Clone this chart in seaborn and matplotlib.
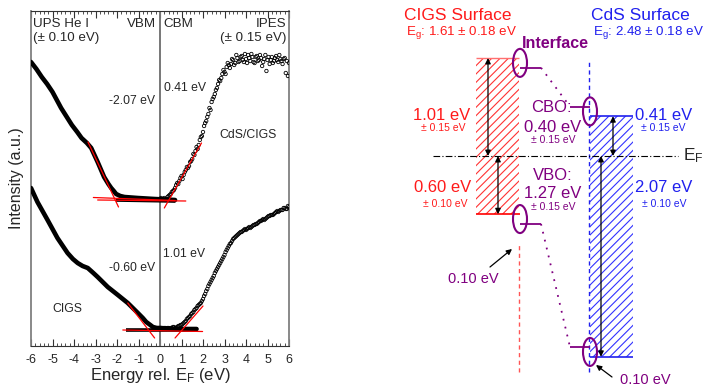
import numpy as np
import pandas as pd
import matplotlib
matplotlib.use("Agg")
import matplotlib.pyplot as plt
import seaborn as sns
from matplotlib.patches import Ellipse

# ---------------- data: left panel (spectra) ----------------
ups_top_e = [-6.0, -5.75, -5.5, -5.25, -5.0, -4.6, -4.1, -3.85, -3.65, -3.4, -3.2, -2.9, -2.6, -2.4, -2.27, -2.15,
             -2.04, -1.85, -1.65, -1.03, -0.25, 0.7]
ups_top_i = [284, 277, 269, 262, 254, 238, 221, 214, 208, 203, 198, 184, 169, 162, 158, 155,
             152, 150, 149, 148, 147, 146]

ups_bot_e = [-6.0, -5.7, -5.23, -4.77, -4.3, -4.05, -3.83, -3.6, -3.36, -3.1, -2.9, -2.43, -1.96, -1.5, -1.03, -0.8,
             -0.64, -0.45, -0.33, -0.15, 0.0, 0.69, 1.7]
ups_bot_i = [158, 144, 126, 108, 93, 87, 83, 80, 78, 73, 69, 59, 51, 43, 33, 28,
             24, 21, 19, 18, 18, 17, 17]

ipes_top_e_a = [0.0, 0.1, 0.2, 0.3, 0.4, 0.5, 0.6, 0.7, 0.8, 0.9, 1.0, 1.1, 1.2, 1.3, 1.4, 1.5, 1.6, 1.7, 1.8, 1.9,
                2.0, 2.1, 2.2, 2.3, 2.4, 2.5, 2.6, 2.7, 2.8, 2.9, 3.0, 3.1, 3.2, 3.3, 3.4, 3.5, 3.6, 3.7, 3.8, 3.9,
                4.0, 4.1, 4.2, 4.3, 4.4, 4.5, 4.6, 4.7, 4.8, 4.9, 5.0, 5.1, 5.2, 5.3, 5.4, 5.5, 5.6, 5.7, 5.8, 5.9, 6.0]
ipes_top_i_a = [147, 146, 148, 147, 150, 152, 155, 158, 163, 165, 170, 171, 176, 178, 184, 187, 191, 199, 201, 209,
                214, 223, 229, 238, 244, 249, 256, 262, 265, 272, 274, 279, 281, 282, 286, 283, 288, 285, 290, 284,
                287, 291, 285, 289, 283, 290, 286, 288, 284, 291, 286, 282, 289, 285, 290, 284, 287, 282, 288, 285, 283]
ipes_top_e_b = [0.05, 0.15, 0.25, 0.35, 0.45, 0.55, 0.65, 0.75, 0.85, 0.95, 1.05, 1.15, 1.25, 1.35, 1.45, 1.55, 1.65,
                1.75, 1.85, 1.95, 2.05, 2.15, 2.25, 2.35, 2.45, 2.55, 2.65, 2.75, 2.85, 2.95, 3.05, 3.15, 3.25, 3.35,
                3.45, 3.55, 3.65, 3.75, 3.85, 3.95, 4.05, 4.15, 4.25, 4.35, 4.45, 4.55, 4.65, 4.75, 4.85, 4.95, 5.05,
                5.15, 5.25, 5.35, 5.45, 5.55, 5.65, 5.75, 5.85, 5.95]
ipes_top_i_b = [148, 147, 146, 149, 151, 154, 156, 161, 162, 168, 167, 174, 179, 180, 185, 192, 195,
                197, 206, 210, 220, 225, 232, 236, 247, 252, 258, 266, 268, 276, 272, 283, 278, 287,
                281, 291, 284, 289, 286, 292, 283, 288, 292, 284, 289, 285, 291, 280, 287, 275, 289,
                286, 283, 288, 286, 291, 285, 287, 273, 270]

ipes_bot_e_a = [0.1, 0.2, 0.3, 0.4, 0.5, 0.6, 0.7, 0.8, 0.9, 1.0, 1.1, 1.2, 1.3, 1.4, 1.5, 1.6, 1.7, 1.8, 1.9,
                2.0, 2.1, 2.2, 2.3, 2.4, 2.5, 2.6, 2.7, 2.8, 2.9, 3.0, 3.1, 3.2, 3.3, 3.4, 3.5, 3.6, 3.7, 3.8, 3.9,
                4.0, 4.1, 4.2, 4.3, 4.4, 4.5, 4.6, 4.7, 4.8, 4.9, 5.0, 5.1, 5.2, 5.3, 5.4, 5.5, 5.6, 5.7, 5.8, 5.9, 6.0]
ipes_bot_i_a = [17, 18, 17, 18, 18, 19, 18, 19, 20, 21, 23, 25, 28, 30, 33, 36, 38, 41, 43,
                47, 52, 57, 62, 66, 70, 75, 79, 83, 87, 91, 96, 100, 103, 107, 109, 111, 113, 114, 116,
                116, 118, 118, 120, 121, 122, 124, 125, 127, 127, 129, 130, 131, 132, 134, 134, 136, 136, 138, 137, 139]
ipes_bot_e_b = [0.05, 0.15, 0.25, 0.35, 0.45, 0.55, 0.65, 0.75, 0.85, 0.95, 1.05, 1.15, 1.25, 1.35, 1.45, 1.55, 1.65,
                1.75, 1.85, 1.95, 2.05, 2.15, 2.25, 2.35, 2.45, 2.55, 2.65, 2.75, 2.85, 2.95, 3.05, 3.15, 3.25, 3.35,
                3.45, 3.55, 3.65, 3.75, 3.85, 3.95, 4.05, 4.15, 4.25, 4.35, 4.45, 4.55, 4.65, 4.75, 4.85, 4.95, 5.05,
                5.15, 5.25, 5.35, 5.45, 5.55, 5.65, 5.75, 5.85, 5.95]
ipes_bot_i_b = [18, 17, 18, 18, 17, 18, 19, 18, 20, 21, 22, 24, 27, 29, 32, 34, 37,
                40, 42, 45, 50, 55, 60, 64, 68, 73, 77, 81, 85, 89, 94, 98, 102, 105,
                108, 110, 112, 114, 115, 117, 117, 119, 119, 121, 122, 123, 125, 126, 126, 128, 130,
                131, 131, 133, 135, 135, 136, 138, 137, 140]

# linear fits (start E, start I, end E, end I)
red_fits = [(-3.35, 204, -1.93, 139), (-3.1, 148.5, 0.7, 145.5), (-2.9, 146, 1.2, 145),
            (0.2, 138, 1.93, 203),
            (-1.5, 43, -0.25, 8), (-1.73, 16, 1.98, 14.5), (0.7, 8, 2.0, 40)]
black_baselines = [(-2.05, 146, 0.72, 145), (-1.6, 16, 1.7, 16)]

xticks = [-6, -5, -4, -3, -2, -1, 0, 1, 2, 3, 4, 5, 6]

# ---------------- data: right panel (band diagram, eV) ----------------
cigs_cbm, cigs_vbm = 1.01, -0.60
cds_cbm, cds_vbm = 0.41, -2.07
band_bend = 0.10
cbo, vbo = 0.40, 1.27

# ---------------- style ----------------
sns.set_style("white")
plt.rcParams["font.family"] = ["Liberation Sans", "DejaVu Sans"]
plt.rcParams["mathtext.fontset"] = "custom"
plt.rcParams["mathtext.rm"] = "Liberation Sans"
plt.rcParams["mathtext.it"] = "Liberation Sans:italic"
plt.rcParams["mathtext.default"] = "regular"
plt.rcParams["axes.unicode_minus"] = False
plt.rcParams["hatch.linewidth"] = 0.8

fig = plt.figure(figsize=(7.04, 3.86), dpi=100)

# ---------------- left panel ----------------
ax = fig.add_axes([31 / 704, 1 - 346 / 386, 258 / 704, 335 / 386])
ax.set_xlim(-6, 6)
ax.set_ylim(0, 335)

ax.axvline(0, color="#777777", lw=1.4, zorder=1)

df_ups_top = pd.DataFrame({"E": ups_top_e, "I": ups_top_i})
df_ups_bot = pd.DataFrame({"E": ups_bot_e, "I": ups_bot_i})
sns.lineplot(data=df_ups_top, x="E", y="I", ax=ax, color="black", lw=3.3, estimator=None, zorder=3)
sns.lineplot(data=df_ups_bot, x="E", y="I", ax=ax, color="black", lw=3.3, estimator=None, zorder=3)

df_ipes = pd.DataFrame({
    "E": ipes_top_e_a + ipes_top_e_b + ipes_bot_e_a + ipes_bot_e_b,
    "I": ipes_top_i_a + ipes_top_i_b + ipes_bot_i_a + ipes_bot_i_b,
})
sns.scatterplot(data=df_ipes, x="E", y="I", ax=ax, marker="o", s=6,
                facecolors="none", edgecolor="black", linewidth=0.6, zorder=3)

for x0, y0, x1, y1 in black_baselines:
    ax.plot([x0, x1], [y0, y1], color="black", lw=2.6, zorder=3, solid_capstyle="butt")
for x0, y0, x1, y1 in red_fits:
    ax.plot([x0, x1], [y0, y1], color="red", lw=0.9, zorder=4)

ax.set_xticks(xticks)
ax.set_xticklabels([str(t) for t in xticks])
ax.set_xticks(np.round(np.arange(-6, 6.01, 0.2), 1), minor=True)
ax.set_yticks([])
ax.tick_params(axis="x", which="major", direction="in", length=5, width=0.8, top=True, bottom=True,
               labelsize=9, pad=6, color="#333333")
ax.tick_params(axis="x", which="minor", direction="in", length=2.5, width=0.6, top=True, bottom=True,
               color="#333333")
for side in ["left", "right"]:
    ax.spines[side].set_color("#808080")
    ax.spines[side].set_linewidth(1.3)
for side in ["top", "bottom"]:
    ax.spines[side].set_color("#333333")
    ax.spines[side].set_linewidth(0.8)

ax.set_xlabel("Energy rel. E$_F$ (eV)", fontsize=12, labelpad=0)
ax.set_ylabel("Intensity (a.u.)", fontsize=11.5, labelpad=5)

fs = 8.8
fs_top = 9.6
ax.text(-5.89, 322, "UPS He I", fontsize=fs_top, ha="left", va="center")
ax.text(-5.89, 308, "(± 0.10 eV)", fontsize=fs_top, ha="left", va="center")
ax.text(-0.19, 322, "VBM", fontsize=fs_top, ha="right", va="center")
ax.text(0.14, 322, "CBM", fontsize=fs_top, ha="left", va="center")
ax.text(5.9, 322, "IPES", fontsize=fs_top, ha="right", va="center")
ax.text(5.9, 308, "(± 0.15 eV)", fontsize=fs_top, ha="right", va="center")
ax.text(-0.23, 245, "-2.07 eV", fontsize=fs, ha="right", va="center")
ax.text(0.19, 258, "0.41 eV", fontsize=fs, ha="left", va="center")
ax.text(4.11, 211, "CdS/CIGS", fontsize=fs, ha="center", va="center")
ax.text(-0.23, 78, "-0.60 eV", fontsize=fs, ha="right", va="center")
ax.text(0.14, 92, "1.01 eV", fontsize=fs, ha="left", va="center")
ax.text(-4.3, 37, "CIGS", fontsize=fs, ha="center", va="center")

# ---------------- right panel ----------------
S = 97.0  # px per eV (schematic)
axr = fig.add_axes([360 / 704, 0, 344 / 704, 1])
axr.set_xlim(360, 704)
axr.set_ylim(-230 / S, 156 / S)
axr.axis("off")

def ey(ypx):
    return (156 - ypx) / S

RED, BLUE, PUR = "#ff1a1a", "#2020ee", "#800080"

cigs_x0, cigs_w = 476, 43
cds_x0, cds_w = 590, 43

axr.bar([cigs_x0], [cigs_cbm - cigs_vbm], bottom=[cigs_vbm], width=cigs_w, align="edge",
        fill=False, hatch="////", edgecolor="#ff3333", linewidth=0)
axr.bar([cds_x0], [cds_cbm - cds_vbm], bottom=[cds_vbm], width=cds_w, align="edge",
        fill=False, hatch="////", edgecolor="#3333ff", linewidth=0)

axr.hlines(cigs_cbm, cigs_x0, cigs_x0 + cigs_w, color="#ff7070", lw=1.0)
axr.hlines(cigs_vbm, cigs_x0, cigs_x0 + cigs_w + 1, color="red", lw=1.2)
axr.hlines(cds_cbm, cds_x0, cds_x0 + cds_w, color=BLUE, lw=1.2)
axr.hlines(cds_vbm, cds_x0, cds_x0 + cds_w, color=BLUE, lw=1.2)

# dashed verticals
axr.vlines(519, ey(372), ey(245), color="#ff5555", lw=1.0, linestyles=(0, (3, 2.5)))
axr.vlines(589, ey(372), ey(61), color=BLUE, lw=1.0, linestyles=(0, (3, 2.5)))

# Fermi level
axr.hlines(0, 433, 678, color="black", lw=0.8, linestyles=(0, (6, 2, 1, 2)))
axr.text(683, 0, "E$_F$", fontsize=12.5, ha="left", va="center")

# interface levels
ci_cb = cigs_cbm - band_bend
ci_vb = cigs_vbm - band_bend
cd_cb = ci_cb - cbo
cd_vb = ci_vb - vbo
axr.hlines([ci_cb, ci_vb], 520, 541, color=PUR, lw=1.3)
axr.hlines([cd_cb, cd_vb], 570, 590, color=PUR, lw=1.3)
axr.plot([541, 570], [ci_cb, cd_cb], color=PUR, lw=1.3, linestyle=(0, (1, 3.5)))
axr.plot([541, 570], [ci_vb, cd_vb], color=PUR, lw=1.3, linestyle=(0, (1, 3.5)))

for xc, yc in [(520, (cigs_cbm + ci_cb) / 2), (520, (cigs_vbm + ci_vb) / 2),
               (590, (cds_cbm + cd_cb) / 2), (590, (cds_vbm + cd_vb) / 2)]:
    axr.add_patch(Ellipse((xc, yc), 14, 28 / S, fill=False, edgecolor=PUR, lw=1.5, zorder=5))

# double arrows
arrow_kw = dict(arrowstyle="<|-|>", color="black", lw=0.9, mutation_scale=8, shrinkA=0, shrinkB=0)
for xa, e in [(488, cigs_cbm), (498, cigs_vbm), (613, cds_cbm), (601, cds_vbm)]:
    axr.annotate("", xy=(xa, e), xytext=(xa, 0), arrowprops=arrow_kw)

# pointer arrows for 0.10 eV
ptr_kw = dict(arrowstyle="-|>", color="black", lw=0.9, mutation_scale=8, shrinkA=0, shrinkB=0)
axr.annotate("", xy=(512, ey(249)), xytext=(490, ey(267)), arrowprops=ptr_kw)
axr.annotate("", xy=(596, ey(365)), xytext=(612, ey(377)), arrowprops=ptr_kw)
axr.text(473, ey(279), f"{band_bend:.2f} eV", color=PUR, fontsize=10.5, ha="center", va="center")
axr.text(645, ey(380), f"{band_bend:.2f} eV", color=PUR, fontsize=10.5, ha="center", va="center")

# titles
axr.text(458, ey(16), "CIGS Surface", color=RED, fontsize=12.5, ha="center", va="center")
axr.text(461, ey(33), f"E$_g$: {cigs_cbm - cigs_vbm:.2f} ± 0.18 eV", color=RED, fontsize=9.6, ha="center", va="center")
axr.text(640, ey(16), "CdS Surface", color=BLUE, fontsize=12.5, ha="center", va="center")
axr.text(648, ey(33), f"E$_g$: {cds_cbm - cds_vbm:.2f} ± 0.18 eV", color=BLUE, fontsize=9.6, ha="center", va="center")
axr.text(555, ey(44), "Interface", color=PUR, fontsize=11.5, fontweight="bold", ha="center", va="center")

big, small = 12, 7.5
axr.text(442, ey(115), f"{cigs_cbm:.2f} eV", color=RED, fontsize=big, ha="center", va="center")
axr.text(443, ey(128), "± 0.15 eV", color=RED, fontsize=small, ha="center", va="center")
axr.text(443, ey(188), f"{-cigs_vbm:.2f} eV", color=RED, fontsize=big, ha="center", va="center")
axr.text(445, ey(204), "± 0.10 eV", color=RED, fontsize=small, ha="center", va="center")

axr.text(551, ey(108), "CBO:", color=PUR, fontsize=big, ha="center", va="center")
axr.text(553, ey(127), f"{cbo:.2f} eV", color=PUR, fontsize=big, ha="center", va="center")
axr.text(553, ey(140), "± 0.15 eV", color=PUR, fontsize=small, ha="center", va="center")
axr.text(553, ey(175), "VBO:", color=PUR, fontsize=big, ha="center", va="center")
axr.text(553, ey(193), f"{vbo:.2f} eV", color=PUR, fontsize=big, ha="center", va="center")
axr.text(553, ey(207), "± 0.15 eV", color=PUR, fontsize=small, ha="center", va="center")

axr.text(664, ey(115), f"{cds_cbm:.2f} eV", color=BLUE, fontsize=big, ha="center", va="center")
axr.text(663, ey(128), "± 0.15 eV", color=BLUE, fontsize=small, ha="center", va="center")
axr.text(664, ey(188), f"{-cds_vbm:.2f} eV", color=BLUE, fontsize=big, ha="center", va="center")
axr.text(664, ey(204), "± 0.10 eV", color=BLUE, fontsize=small, ha="center", va="center")

fig.savefig("out.png", dpi=100)
